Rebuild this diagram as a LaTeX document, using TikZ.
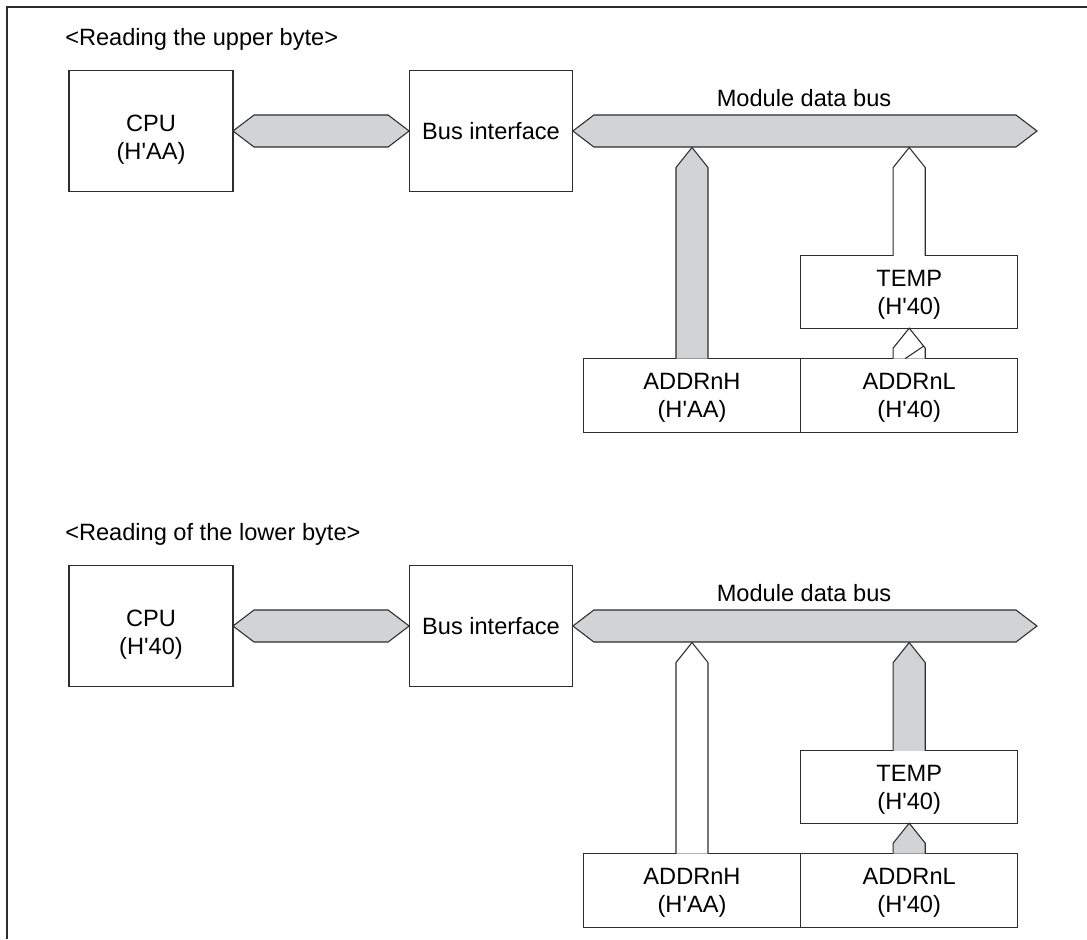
\documentclass[tikz,border=0pt]{standalone}
\usepackage{fontspec}
\setmainfont{Liberation Sans}
\usetikzlibrary{calc}
\definecolor{busgray}{RGB}{210,211,213}
\definecolor{lin}{RGB}{45,45,45}
\newcommand{\q}{\textquotesingle}
\tikzset{
  box/.style={draw=lin, line width=0.8pt, fill=white, inner sep=0pt, outer sep=0pt},
  lbl/.style={inner sep=0pt, align=center, font=\fontsize{17.7}{21}\selectfont},
  busline/.style={draw=lin, line width=0.8pt},
  busfill/.style={busline, fill=busgray},
}
% horizontal double-headed bus: #1 left tip, #2 right tip
\newcommand{\myHbus}[2]{%
  \draw[busfill] (#1) -- ($(#1)+(21,-16)$) -- ($(#2)+(-21,-16)$) -- (#2)
    -- ($(#2)+(-21,16)$) -- ($(#1)+(21,16)$) -- cycle;}
% vertical bus: #1 base (bottom centre), #2 tip, #3 fill colour
\newcommand{\myVbus}[3]{%
  \fill[#3] ($(#1)+(-16,0)$) -- ($(#2)+(-16,20)$) -- (#2) -- ($(#2)+(16,20)$) -- ($(#1)+(16,0)$) -- cycle;
  \draw[busline] ($(#1)+(-16,0)$) -- ($(#2)+(-16,20)$) -- (#2) -- ($(#2)+(16,20)$) -- ($(#1)+(16,0)$);}
\begin{document}
\begin{tikzpicture}[x=0.75pt, y=-0.75pt]
\useasboundingbox (0,0) rectangle (1087,939);
\draw[lin, line width=1.3pt] (7,939) -- (7,7) -- (1087,7);

% ---------------- upper panel ----------------
\node[lbl, anchor=base west] (t1) at (65,45.7) {<Reading the upper byte>};
\node[box, minimum width=123pt, minimum height=90.75pt] (cpu1) at (151,131) {};
\node[lbl] (cpu1t) at ($(cpu1.center)+(0,9)$) {CPU\\(H\q AA)};
\node[box, minimum width=122.8pt, minimum height=90.75pt] (bi1) at (491,131) {};
\node[lbl] (bi1t) at (bi1.center) {Bus interface};
\node[box, minimum width=162.75pt, minimum height=54.2pt] (temp1) at (909.2,292) {};
\node[lbl] (temp1t) at ($(temp1.center)+(0,3)$) {TEMP\\(H\q 40)};
\node[box, minimum width=163.3pt, minimum height=55.1pt] (ah1) at (692,395.3) {};
\node[lbl] (ah1t) at ($(ah1.center)+(0,3)$) {ADDRnH\\(H\q AA)};
\node[box, minimum width=162.75pt, minimum height=55.1pt] (al1) at (909.2,395.3) {};
\node[lbl] (al1t) at ($(al1.center)+(0,3)$) {ADDRnL\\(H\q 40)};
\coordinate (mend1) at (1037,131);
\coordinate (bbot1) at (0,147.5);
\node[lbl, anchor=base] (mdb1) at (804,106.5) {Module data bus};
\myHbus{cpu1.east}{bi1.west}
\myHbus{bi1.east}{mend1}
\myVbus{ah1.north}{ah1.north |- bbot1}{busgray}
\myVbus{temp1.north}{temp1.north |- bbot1}{white}
\myVbus{al1.north}{temp1.south}{white}
\draw[busline] ($(al1.north)+(-4,0)$) -- ($(al1.north)+(14.5,-12.5)$);

% ---------------- lower panel ----------------
\begin{scope}[shift={(0,495)}]
\node[lbl, anchor=base west] (t2) at (65,45.7) {<Reading of the lower byte>};
\node[box, minimum width=123pt, minimum height=90.75pt] (cpu2) at (151,131) {};
\node[lbl] (cpu2t) at ($(cpu2.center)+(0,9)$) {CPU\\(H\q 40)};
\node[box, minimum width=122.8pt, minimum height=90.75pt] (bi2) at (491,131) {};
\node[lbl] (bi2t) at (bi2.center) {Bus interface};
\node[box, minimum width=162.75pt, minimum height=54.2pt] (temp2) at (909.2,292) {};
\node[lbl] (temp2t) at ($(temp2.center)+(0,3)$) {TEMP\\(H\q 40)};
\node[box, minimum width=163.3pt, minimum height=55.1pt] (ah2) at (692,395.3) {};
\node[lbl] (ah2t) at ($(ah2.center)+(0,3)$) {ADDRnH\\(H\q AA)};
\node[box, minimum width=162.75pt, minimum height=55.1pt] (al2) at (909.2,395.3) {};
\node[lbl] (al2t) at ($(al2.center)+(0,3)$) {ADDRnL\\(H\q 40)};
\coordinate (mend2) at (1037,131);
\coordinate (bbot2) at (0,147.5);
\node[lbl, anchor=base] (mdb2) at (804,106.5) {Module data bus};
\myHbus{cpu2.east}{bi2.west}
\myHbus{bi2.east}{mend2}
\myVbus{ah2.north}{ah2.north |- bbot2}{white}
\myVbus{temp2.north}{temp2.north |- bbot2}{busgray}
\myVbus{al2.north}{temp2.south}{busgray}
\end{scope}
\end{tikzpicture}
\end{document}
